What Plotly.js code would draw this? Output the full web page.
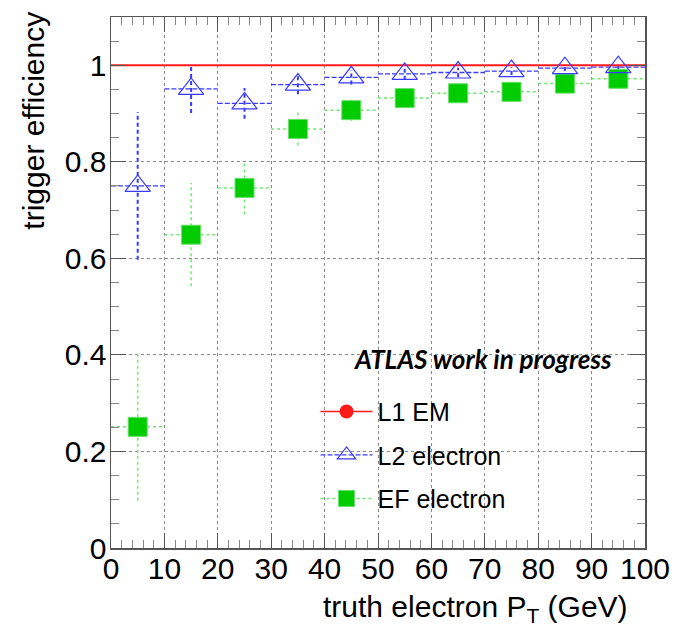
<!DOCTYPE html>
<html>
<head>
<meta charset="utf-8">
<script src="https://cdn.plot.ly/plotly-3.0.1.min.js"></script>
<style>
  html, body { margin: 0; padding: 0; background: #ffffff; }
  #chart { width: 683px; height: 638px; }
</style>
</head>
<body>
<div id="chart"></div>
<script>
// ---- data ----
var binLow    = [0, 10, 20, 30, 40, 50, 60, 70, 80, 90];
var binHigh   = [10, 20, 30, 40, 50, 60, 70, 80, 90, 100];
var binCenter = [5, 15, 25, 35, 45, 55, 65, 75, 85, 95];

var l1Eff = [1, 1, 1, 1, 1, 1, 1, 1, 1, 1];

var l2Eff = [0.750, 0.951, 0.921, 0.960, 0.975, 0.982, 0.985, 0.988, 0.994, 0.996];
var l2Err = [0.153, 0.050, 0.032, 0.020, 0.015, 0.012, 0.010, 0.008, 0.006, 0.004];

var efEff = [0.251, 0.649, 0.746, 0.868, 0.907, 0.932, 0.942, 0.945, 0.962, 0.972];
var efErr = [0.153, 0.107, 0.055, 0.034, 0.022, 0.018, 0.015, 0.013, 0.010, 0.008];

var seriesNames = ["L1 EM", "L2 electron", "EF electron"];
var xTitle = "truth electron P<sub>T</sub> (GeV)";
var yTitle = "trigger efficiency";
var label = "<b><i>ATLAS work in progress</i></b>";

// ---- helpers: bin-width segments and error segments ----
function hSegments(vals) {
  var x = [], y = [];
  for (var i = 0; i < vals.length; i++) {
    x.push(binLow[i], binHigh[i], null);
    y.push(vals[i], vals[i], null);
  }
  return {x: x, y: y};
}
function vSegments(vals, errs) {
  var x = [], y = [];
  for (var i = 0; i < vals.length; i++) {
    x.push(binCenter[i], binCenter[i], null);
    y.push(vals[i] - errs[i], Math.min(vals[i] + errs[i], 1.0), null);
  }
  return {x: x, y: y};
}

var RED = "#ff1a1a";
var BLUE = "#3a3aff";
var GREEN = "#00cc00";
var LGREEN = "#70e870";

var l1H = hSegments(l1Eff);
var l2H = hSegments(l2Eff), l2V = vSegments(l2Eff, l2Err);
var efH = hSegments(efEff), efV = vSegments(efEff, efErr);

var traces = [
  // EF error bars
  {x: efH.x, y: efH.y, mode: "lines", line: {color: LGREEN, width: 1.5, dash: "dot"}, showlegend: false, hoverinfo: "skip"},
  {x: efV.x, y: efV.y, mode: "lines", line: {color: LGREEN, width: 1.5, dash: "dot"}, showlegend: false, hoverinfo: "skip"},
  // L2 error bars
  {x: l2H.x, y: l2H.y, mode: "lines", line: {color: BLUE, width: 1.3, dash: "5px,2px"}, showlegend: false, hoverinfo: "skip"},
  {x: l2V.x, y: l2V.y, mode: "lines", line: {color: BLUE, width: 2, dash: "4px,3px"}, showlegend: false, hoverinfo: "skip"},
  // L1 line
  {x: l1H.x, y: l1H.y, mode: "lines", line: {color: RED, width: 1.8}, showlegend: false, hoverinfo: "skip"},
  // markers
  {x: binCenter, y: efEff, mode: "markers", showlegend: false,
   marker: {symbol: "square", size: 19, color: GREEN, line: {color: "#66e066", width: 1}}},
  {x: binCenter, y: l2Eff, mode: "markers", showlegend: false,
   marker: {symbol: "triangle-up-open", size: 22, color: BLUE, line: {color: BLUE, width: 1.2}}},
  // legend entries
  {x: [null], y: [null], name: seriesNames[0], mode: "lines+markers", legendgroup: "a",
   line: {color: RED, width: 1.5}, marker: {symbol: "circle", size: 14, color: RED}},
  {x: [null], y: [null], name: seriesNames[1], mode: "lines+markers", legendgroup: "b",
   line: {color: BLUE, width: 1.2, dash: "5px,2px"}, marker: {symbol: "triangle-up-open", size: 16, color: BLUE, line: {width: 1.2}}},
  {x: [null], y: [null], name: seriesNames[2], mode: "lines+markers", legendgroup: "c",
   line: {color: LGREEN, width: 1.5, dash: "dot"}, marker: {symbol: "square", size: 16, color: GREEN, line: {color: "#66e066", width: 1}}}
];

var AXC = "#555555";
var FONT = "Liberation Sans, Arial, sans-serif";

var layout = {
  width: 683, height: 638,
  margin: {l: 111, r: 38, t: 17, b: 90},
  paper_bgcolor: "#ffffff", plot_bgcolor: "#ffffff",
  font: {family: FONT, size: 30, color: "#000000"},
  showlegend: true,
  legend: {x: 0.383, xanchor: "left", y: 0.30, yanchor: "top",
           font: {family: FONT, size: 25, color: "#000000"},
           bgcolor: "rgba(0,0,0,0)", borderwidth: 0,
           tracegroupgap: 8, itemwidth: 52, traceorder: "grouped"},
  xaxis: {
    range: [0, 100], dtick: 10, tick0: 0,
    ticks: "inside", ticklen: 15, tickwidth: 1, tickcolor: AXC,
    showline: true, linecolor: AXC, linewidth: 1.5, mirror: "ticks",
    showgrid: true, gridcolor: "#8a8a8a", gridwidth: 1, griddash: "dot",
    zeroline: false, ticklabelstandoff: -7,
    minor: {dtick: 2, ticks: "inside", ticklen: 8, tickcolor: "#888888", showgrid: false},
    tickfont: {family: FONT, size: 30, color: "#000000"}
  },
  yaxis: {
    range: [0, 1.1], dtick: 0.2, tick0: 0,
    ticks: "inside", ticklen: 15, tickwidth: 1, tickcolor: AXC,
    showline: true, linecolor: AXC, linewidth: 1.5, mirror: "ticks",
    showgrid: true, gridcolor: "#8a8a8a", gridwidth: 1, griddash: "dot",
    zeroline: false, ticklabelstandoff: -3,
    minor: {dtick: 0.05, ticks: "inside", ticklen: 8, tickcolor: "#888888", showgrid: false},
    tickfont: {family: FONT, size: 30, color: "#000000"},
    tickformat: "~g"
  },
  annotations: [
    {text: label, xref: "paper", yref: "paper", x: 0.942, y: 0.355, xanchor: "right", yanchor: "middle",
     showarrow: false, font: {family: "Lato, Open Sans, sans-serif", size: 26, color: "#000000"}},
    {text: xTitle, xref: "paper", yref: "paper", x: 0.971, y: -0.113, xanchor: "right", yanchor: "middle",
     showarrow: false, font: {family: FONT, size: 30, color: "#000000"}},
    {text: yTitle, xref: "paper", yref: "paper", x: -0.145, y: 1.013, xanchor: "center", yanchor: "top",
     textangle: -90, showarrow: false, font: {family: FONT, size: 30, color: "#000000"}}
  ]
};

Plotly.newPlot("chart", traces, layout, {displayModeBar: false, staticPlot: true});
</script>
</body>
</html>
